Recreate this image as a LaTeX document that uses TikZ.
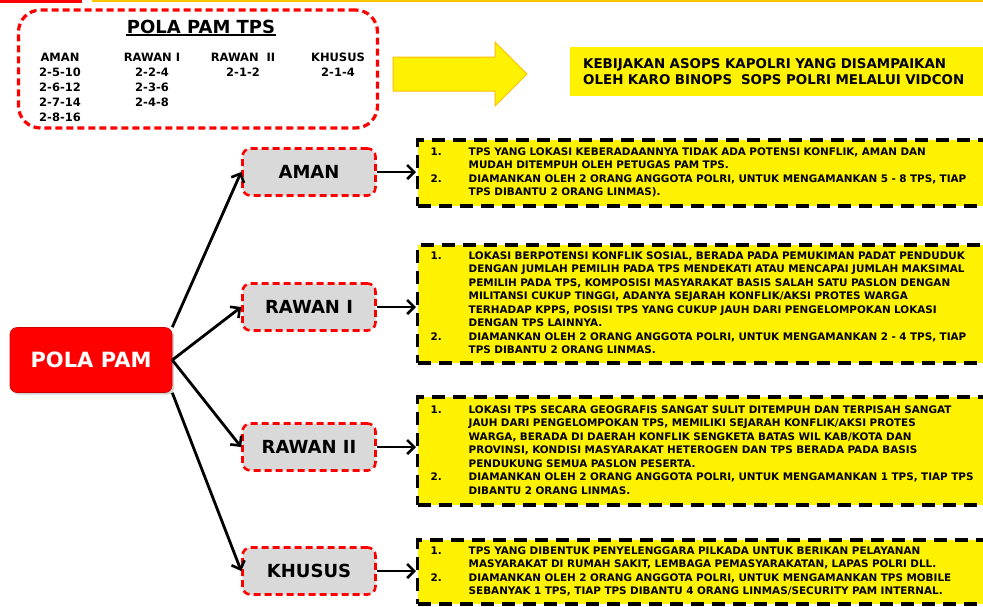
\documentclass[tikz,border=0pt]{standalone}
\usepackage{fontspec}
\setsansfont{DejaVu Sans}
\usetikzlibrary{arrows.meta, shadows}
\begin{document}
\begin{tikzpicture}[x=1pt, y=-1pt, font=\sffamily\bfseries]

\clip (0,0) rectangle (983,606);

% styles
\pgfkeys{/link/.style={draw, line width=2.8pt, -{Straight Barb[length=7pt, width=14pt, line width=2.6pt]}}} % connectors
\pgfkeys{/reddash/.style={draw=red, dash pattern=on 7pt off 4pt, line width=2.6pt}} % red dashed border
\pgfkeys{/cat/.style={/reddash, fill=gray!30, rounded corners=8pt, minimum width=133pt, minimum height=47pt, font=\sffamily\bfseries\fontsize{18}{20}\selectfont}} % category boxes
\pgfkeys{/ket/.style={fill=yellow, draw=black, dash pattern=on 13pt off 8pt, line width=3.4pt, anchor=west, text width=553pt, inner xsep=13pt, inner ysep=0pt, font=\sffamily\bfseries\fontsize{10.4}{13.5}\selectfont}} % explanation boxes
\pgfkeys{/col/.style={anchor=north, inner sep=0pt, align=center, font=\sffamily\bfseries\fontsize{11.5}{15}\selectfont}} % columns of the TPS table

% slide header lines
\fill[red] (0,0) rectangle (82,2.5);
\fill[orange!45!yellow] (92,0) rectangle (983,1.8);

% top group: pola pam tps
\node[/reddash, line width=3.2pt, rounded corners=22pt, minimum width=359pt, minimum height=118pt] (tpsbox) at (198,69) {};
\node[inner sep=1pt, font=\sffamily\bfseries\fontsize{18}{20}\selectfont] (title) at (201,27) {POLA PAM TPS};
\draw[line width=1.6pt] (title.south west) -- (title.south east);
\node[/col] (colA) at (60,53) {AMAN\\2-5-10\\2-6-12\\2-7-14\\2-8-16};
\node[/col] (colB) at (152,53) {RAWAN I\\2-2-4\\2-3-6\\2-4-8};
\node[/col] (colC) at (243,53) {RAWAN\ \ II\\2-1-2};
\node[/col] (colD) at (338,53) {KHUSUS\\2-1-4};

% big yellow arrow and policy note
\fill[yellow, draw=orange!50!yellow, line width=1pt] (393,57) -- (495,57) -- (495,42) -- (527,74) -- (495,106) -- (495,91) -- (393,91) -- cycle;
\node[fill=yellow, anchor=west, text width=394pt, inner xsep=13pt, minimum height=49pt, align=left, font=\sffamily\bfseries\fontsize{13.4}{16.5}\selectfont] (kebijakan) at (570,71.5) {KEBIJAKAN ASOPS KAPOLRI YANG DISAMPAIKAN\\OLEH KARO BINOPS\ \ SOPS POLRI MELALUI VIDCON};

% root
\node[fill=red, draw=red!80!black, line width=0.6pt, rounded corners=7pt, minimum width=162pt, minimum height=65pt, text=white, drop shadow={opacity=0.35}, font=\sffamily\bfseries\fontsize{21}{24}\selectfont] (polapam) at (91,360) {POLA PAM};

% categories
\foreach \nm/\yy/\lbl in {aman/172/AMAN, rawanI/307/RAWAN I, rawanII/447/RAWAN II, khusus/571/KHUSUS} {
\node[/cat] (\nm) at (309,\yy) {\lbl};
}

% explanation boxes
\node[/ket, minimum height=66pt] (ket1) at (416,173) {%
\begin{tabular}{@{}p{38pt}@{}l@{}}
1. & TPS YANG LOKASI KEBERADAANNYA TIDAK ADA POTENSI KONFLIK, AMAN DAN\\
 & MUDAH DITEMPUH OLEH PETUGAS PAM TPS.\\
2. & DIAMANKAN OLEH 2 ORANG ANGGOTA POLRI, UNTUK MENGAMANKAN 5 - 8 TPS, TIAP\\
 & TPS DIBANTU 2 ORANG LINMAS).
\end{tabular}};
\node[/ket, minimum height=118pt] (ket2) at (416,304) {%
\begin{tabular}{@{}p{38pt}@{}l@{}}
1. & LOKASI BERPOTENSI KONFLIK SOSIAL, BERADA PADA PEMUKIMAN PADAT PENDUDUK\\
 & DENGAN JUMLAH PEMILIH PADA TPS MENDEKATI ATAU MENCAPAI JUMLAH MAKSIMAL\\
 & PEMILIH PADA TPS, KOMPOSISI MASYARAKAT BASIS SALAH SATU PASLON DENGAN\\
 & MILITANSI CUKUP TINGGI, ADANYA SEJARAH KONFLIK/AKSI PROTES WARGA\\
 & TERHADAP KPPS, POSISI TPS YANG CUKUP JAUH DARI PENGELOMPOKAN LOKASI\\
 & DENGAN TPS LAINNYA.\\
2. & DIAMANKAN OLEH 2 ORANG ANGGOTA POLRI, UNTUK MENGAMANKAN 2 - 4 TPS, TIAP\\
 & TPS DIBANTU 2 ORANG LINMAS.
\end{tabular}};
\node[/ket, minimum height=108pt] (ket3) at (416,451) {%
\begin{tabular}{@{}p{38pt}@{}l@{}}
1. & LOKASI TPS SECARA GEOGRAFIS SANGAT SULIT DITEMPUH DAN TERPISAH SANGAT\\
 & JAUH DARI PENGELOMPOKAN TPS, MEMILIKI SEJARAH KONFLIK/AKSI PROTES\\
 & WARGA, BERADA DI DAERAH KONFLIK SENGKETA BATAS WIL KAB/KOTA DAN\\
 & PROVINSI, KONDISI MASYARAKAT HETEROGEN DAN TPS BERADA PADA BASIS\\
 & PENDUKUNG SEMUA PASLON PESERTA.\\
2. & DIAMANKAN OLEH 2 ORANG ANGGOTA POLRI, UNTUK MENGAMANKAN 1 TPS, TIAP TPS\\
 & DIBANTU 2 ORANG LINMAS.
\end{tabular}};
\node[/ket, minimum height=64pt] (ket4) at (416,572) {%
\begin{tabular}{@{}p{38pt}@{}l@{}}
1. & TPS YANG DIBENTUK PENYELENGGARA PILKADA UNTUK BERIKAN PELAYANAN\\
 & MASYARAKAT DI RUMAH SAKIT, LEMBAGA PEMASYARAKATAN, LAPAS POLRI DLL.\\
2. & DIAMANKAN OLEH 2 ORANG ANGGOTA POLRI, UNTUK MENGAMANKAN TPS MOBILE\\
 & SEBANYAK 1 TPS, TIAP TPS DIBANTU 4 ORANG LINMAS/SECURITY PAM INTERNAL.
\end{tabular}};

% connectors
\draw[/link] (polapam.north east) -- (aman.west);
\draw[/link] (polapam.east) -- (rawanI.west);
\draw[/link] (polapam.east) -- (rawanII.west);
\draw[/link] (polapam.south east) -- (khusus.west);
\foreach \nm/\k in {aman/1, rawanI/2, rawanII/3, khusus/4} {
\draw[/link] (\nm.east) -- (\nm.east -| ket\k.west);
}

\end{tikzpicture}
\end{document}
